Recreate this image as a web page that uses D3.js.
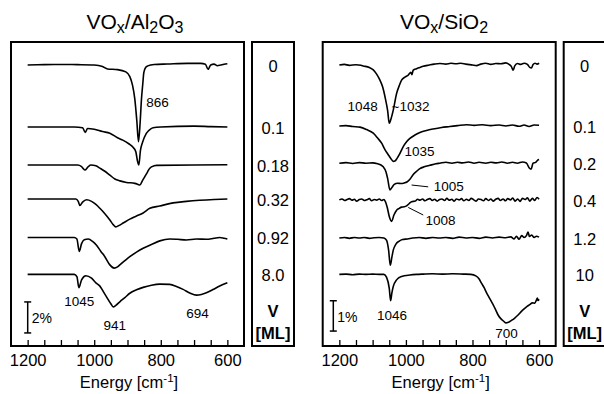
<!DOCTYPE html>
<html>
<head>
<meta charset="utf-8">
<script src="https://cdn.jsdelivr.net/npm/d3@7"></script>
<style>
    body { margin: 0; background: white; }
    text { font-family: "Liberation Sans", Arial, sans-serif; fill: black; }
</style>
</head>
<body>
<script>
// spectra: [wavenumber cm-1, change in %] relative to each trace's own baseline
const alTrace0 = [[1200,0],[1150,0.02],[1100,0.03],[1050,0.02],[1000,0],[975,-0.1],[960,-0.26],[930,-0.3],[905,-0.45],[893,-0.75],[885,-1.3],[878,-2.2],[872,-3.6],[867,-4.95],[862,-3.7],[858,-2.2],[854,-1.2],[851,-0.5],[845,-0.15],[839,-0.06],[820,0.03],[780,0.06],[720,0.1],[680,0.1],[666,0.05],[658,-0.28],[650,0],[640,0.05],[630,-0.05],[620,0],[610,0.05],[600,0.08]];
const alTrace01 = [[1200,0],[1100,0],[1060,0],[1035,-0.05],[1027,-0.35],[1020,-0.1],[1000,-0.15],[975,-0.3],[953,-0.4],[930,-0.7],[914,-0.85],[895,-1.1],[884,-1.3],[875,-1.6],[870,-2.2],[866,-2.45],[861,-1.5],[855,-1.0],[843,-0.4],[830,-0.12],[823,-0.05],[800,0],[700,0.05],[650,0.02],[600,0]];
const alTrace018 = [[1200,0],[1100,0],[1050,0],[1038,-0.1],[1028,-0.32],[1018,-0.1],[1010,0],[995,-0.05],[983,-0.2],[968,-0.4],[953,-0.65],[938,-0.9],[923,-1.02],[903,-1.12],[878,-1.18],[868,-1.25],[863,-1.29],[855,-1.0],[848,-0.75],[840,-0.45],[833,-0.2],[820,-0.05],[813,-0.02],[700,0],[600,0.02]];
const alTrace032 = [[1200,0],[1100,0],[1055,0],[1048,-0.15],[1043,-0.42],[1035,-0.2],[1023,-0.05],[1008,-0.15],[995,-0.35],[983,-0.6],[968,-0.95],[953,-1.35],[943,-1.65],[935,-1.8],[925,-1.7],[913,-1.55],[893,-1.3],[873,-1.1],[853,-0.9],[833,-0.6],[803,-0.45],[763,-0.25],[723,-0.15],[683,-0.08],[640,-0.03],[600,0]];
const alTrace092 = [[1200,0],[1100,0],[1060,0],[1052,-0.1],[1045,-0.9],[1038,-0.4],[1030,-0.15],[1018,-0.1],[1005,-0.25],[993,-0.5],[980,-0.9],[968,-1.24],[953,-1.77],[940,-1.98],[930,-1.9],[923,-1.77],[908,-1.5],[893,-1.24],[873,-0.95],[853,-0.7],[828,-0.45],[803,-0.22],[773,-0.1],[750,-0.12],[723,-0.16],[693,-0.1],[663,-0.12],[640,-0.05],[623,0],[610,-0.05],[600,-0.1]];
const alTrace80 = [[1200,0],[1100,0],[1060,0],[1052,-0.15],[1046,-0.86],[1038,-0.35],[1025,-0.09],[1008,-0.25],[995,-0.55],[983,-0.76],[973,-1.1],[963,-1.45],[950,-1.9],[943,-2.1],[935,-2.0],[923,-1.77],[908,-1.5],[893,-1.22],[873,-1.0],[853,-0.84],[828,-0.7],[803,-0.63],[773,-0.65],[753,-0.78],[733,-0.97],[713,-1.2],[693,-1.34],[678,-1.3],[663,-1.19],[643,-0.98],[623,-0.75],[600,-0.54]];

const siTrace0 = [[1200,0],[1185,0.02],[1170,-0.01],[1150,0.01],[1135,-0.01],[1128,-0.03],[1110,-0.08],[1098,-0.16],[1088,-0.3],[1078,-0.5],[1070,-0.72],[1063,-1.04],[1055,-1.5],[1050,-1.92],[1046,-1.82],[1038,-1.49],[1028,-0.94],[1020,-0.68],[1013,-0.5],[1003,-0.4],[993,-0.33],[985,-0.24],[982,-0.32],[978,-0.17],[968,-0.12],[958,-0.08],[948,-0.04],[930,0],[915,0.03],[898,0.05],[880,0.03],[865,0.06],[850,0.04],[835,0.06],[820,0.03],[800,0],[788,-0.02],[775,0.03],[760,0.06],[745,0.02],[730,0.05],[715,0.04],[700,0.07],[690,0.02],[683,-0.05],[678,-0.17],[673,-0.03],[665,0.05],[655,0.02],[645,0.06],[635,0.02],[628,-0.08],[623,-0.1],[618,0.02],[612,0.06],[606,0.03],[600,0.06]];
const siTrace01 = [[1200,0],[1180,0.01],[1160,-0.02],[1138,-0.04],[1118,-0.12],[1098,-0.24],[1085,-0.4],[1073,-0.57],[1063,-0.78],[1053,-0.95],[1045,-1.08],[1038,-1.17],[1033,-1.16],[1027,-1.08],[1020,-0.95],[1008,-0.68],[998,-0.52],[988,-0.41],[973,-0.3],[958,-0.22],[938,-0.15],[918,-0.1],[893,-0.05],[868,-0.02],[845,0.01],[818,0.04],[795,0.02],[770,0.04],[745,0.01],[720,0.03],[700,0],[680,0.03],[660,-0.01],[645,0.03],[630,-0.02],[615,0.03],[600,0.02]];
const siTrace02 = [[1200,0],[1180,0.02],[1160,-0.01],[1140,0.02],[1120,0],[1100,0.01],[1085,-0.02],[1075,-0.06],[1068,-0.12],[1060,-0.28],[1055,-0.5],[1048,-0.88],[1042,-0.8],[1035,-0.7],[1025,-0.66],[1015,-0.67],[1005,-0.65],[997,-0.62],[988,-0.53],[978,-0.37],[968,-0.27],[958,-0.18],[945,-0.12],[928,-0.07],[910,-0.02],[898,0],[880,0.03],[862,0],[845,0.03],[830,0.01],[812,0.04],[795,0],[780,0.03],[760,0],[745,0.03],[728,0.01],[712,0.04],[695,0],[680,0.03],[665,0],[650,0.04],[638,0.01],[630,-0.15],[624,-0.2],[618,0],[610,0.03],[604,0.1],[600,0.12]];
const siTrace04 = [[1200,0],[1192,0.03],[1184,-0.02],[1177,0.01],[1170,0.04],[1162,-0.01],[1155,0.02],[1148,-0.04],[1140,0.01],[1133,0.03],[1125,-0.02],[1118,0],[1110,0.04],[1103,-0.03],[1095,0.01],[1088,-0.01],[1080,0.03],[1073,-0.02],[1066,0.01],[1062,-0.05],[1056,-0.25],[1050,-0.55],[1043,-0.71],[1036,-0.5],[1028,-0.34],[1020,-0.28],[1013,-0.24],[1005,-0.23],[998,-0.2],[990,-0.12],[983,-0.06],[972,-0.04],[965,0.02],[958,-0.01],[950,0.03],[943,-0.03],[936,0.01],[928,0.04],[921,-0.02],[914,0.02],[906,-0.04],[899,0.01],[892,0.03],[884,-0.02],[877,0.05],[870,-0.01],[862,0.02],[855,-0.04],[848,0.03],[840,0],[833,0.04],[826,-0.03],[818,0.02],[811,-0.02],[804,0.05],[796,0],[789,-0.04],[782,0.03],[774,0.01],[767,-0.03],[760,0.04],[752,-0.02],[745,0.03],[738,-0.04],[730,0.02],[723,0.05],[716,-0.02],[708,0.03],[701,-0.03],[694,0.04],[686,0],[679,0.06],[672,-0.04],[664,0.03],[657,-0.05],[650,0.05],[642,0.01],[635,0.07],[628,-0.04],[620,0.05],[613,-0.02],[606,0.08],[600,0.02]];
const siTrace12 = [[1200,0],[1185,0.02],[1170,-0.01],[1155,0.02],[1140,0],[1125,0.02],[1110,-0.01],[1095,0.01],[1080,0.02],[1066,0],[1058,-0.08],[1052,-0.4],[1047,-0.9],[1042,-0.62],[1038,-0.4],[1030,-0.2],[1020,-0.1],[1010,-0.05],[995,-0.03],[980,0],[960,0.02],[940,-0.01],[920,0.02],[900,0],[880,0.02],[860,-0.01],[840,0.03],[820,0],[800,0.02],[780,-0.01],[760,0.03],[740,0],[720,0.03],[700,0.01],[685,0.04],[675,-0.03],[668,0.06],[660,-0.04],[652,0.08],[645,0.02],[638,0.08],[633,0.2],[629,0.05],[622,0.1],[615,0.02],[608,0.06],[600,0.03]];
const siTrace10 = [[1200,0],[1180,0.01],[1160,-0.01],[1140,0.01],[1120,0],[1100,0.01],[1080,0],[1066,0],[1058,-0.1],[1050,-0.46],[1046,-0.87],[1042,-0.6],[1038,-0.4],[1028,-0.18],[1013,-0.07],[988,-0.02],[968,0],[948,0.01],[920,0.02],[890,0.01],[860,0.02],[828,0.01],[805,0],[790,-0.05],[780,-0.15],[773,-0.29],[765,-0.44],[758,-0.6],[748,-0.8],[738,-1.0],[730,-1.18],[723,-1.34],[715,-1.46],[708,-1.53],[700,-1.6],[692,-1.58],[683,-1.52],[673,-1.44],[663,-1.34],[653,-1.22],[643,-1.12],[635,-1.05],[628,-1.0],[620,-0.94],[613,-0.95],[608,-0.85],[605,-0.78],[603,-0.86],[600,-0.82]];

// baseline offsets (%) of each trace, measured down from top of the panel
const alOffsets = [-1.48, -5.48, -7.94, -10.13, -12.61, -14.99];
const siOffsets = [-0.76, -2.77, -4.0, -5.21, -6.47, -7.67];

const alLoadings = ["0", "0.1", "0.18", "0.32", "0.92", "8.0"];
const siLoadings = ["0", "0.1", "0.2", "0.4", "1.2", "10"];

const xTicks = [1200, 1150, 1100, 1050, 1000, 950, 900, 850, 800, 750, 700, 650, 600];
const xTickLabels = [1200, 1000, 800, 600];

// peak labels: [text, wavenumber, value]
const alPeaks = [["866", 810, -4.17], ["1045", 1045, -17.03], ["941", 938, -18.58], ["694", 690, -17.81]];
const siPeaks = [["1048", 1130, -2.28], ["~1032", 986, -2.28], ["1035", 959, -3.76], ["1005", 871, -4.92], ["1008", 896, -6.04], ["1046", 1042, -9.17], ["700", 698, -9.77]];
// leader lines: [w1, v1, w2, v2]
const siLeaders = [[983, -4.72, 933, -4.78], [993, -5.46, 948, -5.71]];

const svg = d3.select("body")
    .append("svg")
    .attr("width", 604)
    .attr("height", 394);

const boxTop = 42, boxBottom = 346;

const drawPanel = (opts) => {
    const x = d3.scaleLinear().domain([1250, 550]).range([opts.left, opts.left + 233]);
    const y = d3.scaleLinear().domain([opts.yMin, 0]).range([boxBottom, boxTop]);

    // title
    const t = svg.append("text")
        .attr("x", opts.titleX)
        .attr("y", 29)
        .attr("text-anchor", "middle")
        .attr("font-size", "21px");
    opts.title.forEach(p => {
        t.append("tspan")
            .attr("dy", p[1])
            .attr("font-size", p[2] ? "16px" : "21px")
            .text(p[0]);
    });

    // box
    svg.append("rect")
        .attr("x", x.range()[0])
        .attr("y", boxTop)
        .attr("width", 233)
        .attr("height", boxBottom - boxTop)
        .attr("fill", "none")
        .attr("stroke", "black")
        .attr("stroke-width", 2);

    // axis
    const axis = d3.axisBottom(x)
        .tickValues(xTicks)
        .tickSizeInner(-6)
        .tickSizeOuter(0)
        .tickPadding(8)
        .tickFormat(d => xTickLabels.includes(d) ? d : "");
    svg.append("g")
        .attr("transform", `translate(0,${boxBottom})`)
        .call(axis)
        .call(g => g.select(".domain").remove())
        .call(g => g.selectAll("line").attr("stroke", "black").attr("stroke-width", 1.3))
        .call(g => g.selectAll("text")
            .attr("font-size", "16.5px")
            .attr("font-family", "Liberation Sans, Arial, sans-serif"));

    const xl = svg.append("text")
        .attr("x", opts.left + 118)
        .attr("y", 388)
        .attr("text-anchor", "middle")
        .attr("font-size", "16.5px")
        .text("Energy [cm");
    xl.append("tspan").attr("dy", -6).attr("font-size", "11.5px").text("-1");
    xl.append("tspan").attr("dy", 6).text("]");

    // traces
    const line = d3.line()
        .x(d => x(d[0]))
        .y(d => y(d[1]))
        .curve(d3.curveMonotoneX);

    opts.traces.forEach((tr, i) => {
        svg.append("path")
            .attr("d", line(tr.map(d => [d[0], d[1] + opts.offsets[i]])))
            .attr("fill", "none")
            .attr("stroke", "black")
            .attr("stroke-width", 1.6)
            .attr("stroke-linejoin", "round");
    });

    // scale bar
    const sb = svg.append("g");
    sb.append("line")
        .attr("x1", opts.barX).attr("x2", opts.barX)
        .attr("y1", y(opts.barTop)).attr("y2", y(opts.barTop - opts.barLen))
        .attr("stroke", "black").attr("stroke-width", 1.5);
    [opts.barTop, opts.barTop - opts.barLen].forEach(v => {
        sb.append("line")
            .attr("x1", opts.barX - 3.5).attr("x2", opts.barX + 3.5)
            .attr("y1", y(v)).attr("y2", y(v))
            .attr("stroke", "black").attr("stroke-width", 1.5);
    });
    sb.append("text")
        .attr("x", opts.barX + 4)
        .attr("y", y(opts.barTop - opts.barLen / 2) + 6)
        .attr("font-size", "14px")
        .text(opts.barLabel);

    // peak labels
    opts.peaks.forEach(p => {
        svg.append("text")
            .attr("x", x(p[1]))
            .attr("y", y(p[2]))
            .attr("text-anchor", "middle")
            .attr("font-size", "13.5px")
            .text(p[0]);
    });
    opts.leaders.forEach(l => {
        svg.append("line")
            .attr("x1", x(l[0])).attr("y1", y(l[1]))
            .attr("x2", x(l[2])).attr("y2", y(l[3]))
            .attr("stroke", "black").attr("stroke-width", 1);
    });

    // loading box
    const bx = opts.left + 241;
    svg.append("rect")
        .attr("x", bx)
        .attr("y", boxTop)
        .attr("width", 42)
        .attr("height", boxBottom - boxTop)
        .attr("fill", "none")
        .attr("stroke", "black")
        .attr("stroke-width", 2);
    opts.loadings.forEach((l, i) => {
        svg.append("text")
            .attr("x", bx + 21)
            .attr("y", y(opts.offsets[i]) + 7)
            .attr("text-anchor", "middle")
            .attr("font-size", "16.5px")
            .text(l);
    });
    svg.append("text")
        .attr("x", bx + 21).attr("y", 317)
        .attr("text-anchor", "middle")
        .attr("font-size", "16.5px")
        .attr("font-weight", "bold")
        .text("V");
    svg.append("text")
        .attr("x", bx + 21).attr("y", 339)
        .attr("text-anchor", "middle")
        .attr("font-size", "16.5px")
        .attr("font-weight", "bold")
        .text("[ML]");
};

drawPanel({
    left: 11,
    titleX: 135,
    title: [["VO", 0, false], ["x", 4, true], ["/Al", -4, false], ["2", 4, true], ["O", -4, false], ["3", 4, true]],
    yMin: -(boxBottom - boxTop) / 15.5,
    traces: [alTrace0, alTrace01, alTrace018, alTrace032, alTrace092, alTrace80],
    offsets: alOffsets,
    loadings: alLoadings,
    peaks: alPeaks,
    leaders: [],
    barX: 27.7, barTop: -16.77, barLen: 2, barLabel: "2%"
});

drawPanel({
    left: 322.7,
    titleX: 444,
    title: [["VO", 0, false], ["x", 4, true], ["/SiO", -4, false], ["2", 4, true]],
    yMin: -(boxBottom - boxTop) / 30.3,
    traces: [siTrace0, siTrace01, siTrace02, siTrace04, siTrace12, siTrace10],
    offsets: siOffsets,
    loadings: siLoadings,
    peaks: siPeaks,
    leaders: siLeaders,
    barX: 333.3, barTop: -8.54, barLen: 1, barLabel: "1%"
});
</script>
</body>
</html>
